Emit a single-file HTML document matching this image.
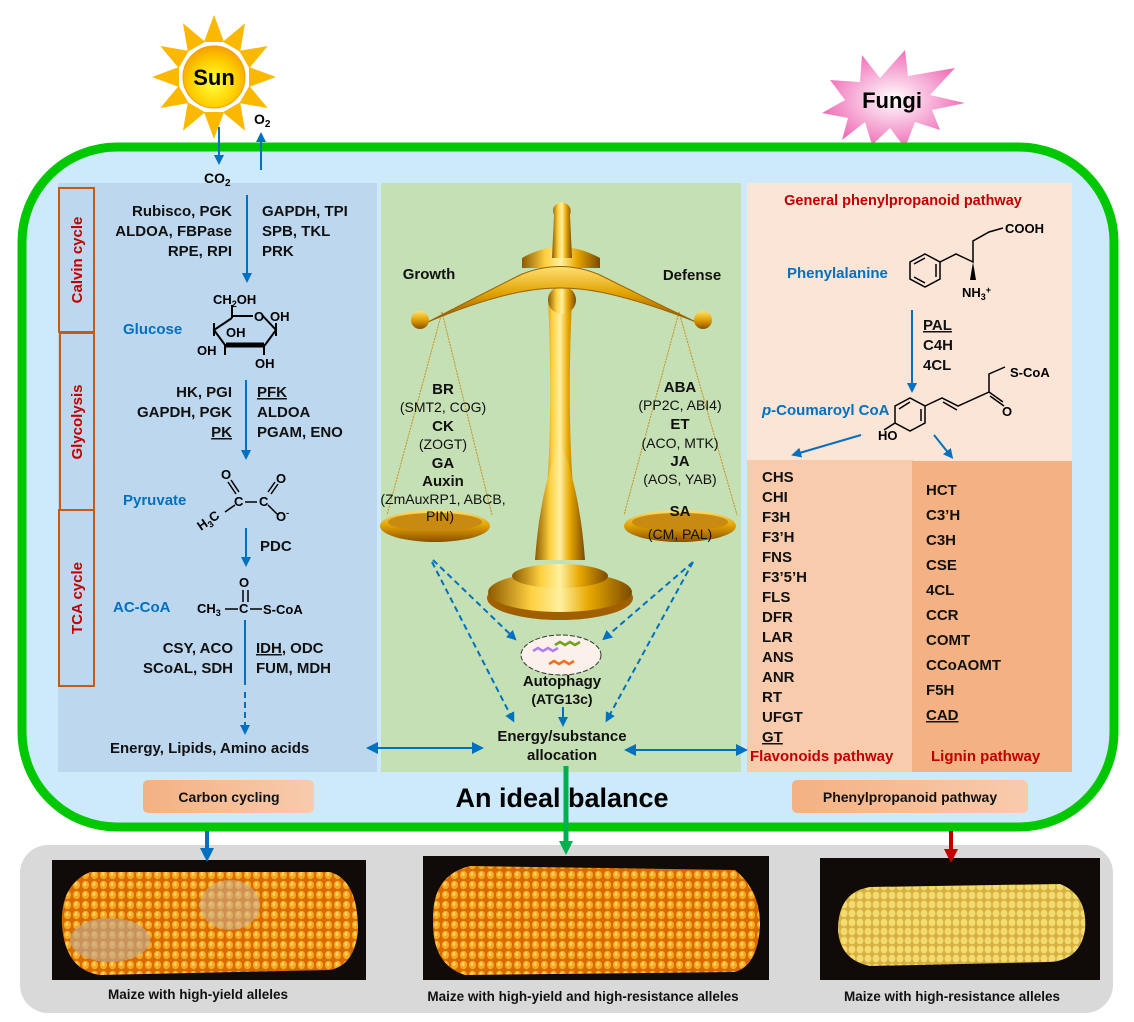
<!DOCTYPE html>
<html><head><meta charset="utf-8"><style>
html,body{margin:0;padding:0;background:#fff;}
svg{display:block;}
text{font-family:"Liberation Sans",Arial,sans-serif;font-weight:bold;}
</style></head><body>
<svg width="1134" height="1022" viewBox="0 0 1134 1022" xmlns="http://www.w3.org/2000/svg">
<defs>
<marker id="ab" markerWidth="10" markerHeight="10" refX="5" refY="5" orient="auto" markerUnits="userSpaceOnUse"><path d="M0,0 L10,5 L0,10 z" fill="#0070c0"/></marker>
<marker id="ab2" markerWidth="12" markerHeight="12" refX="6" refY="6" orient="auto-start-reverse" markerUnits="userSpaceOnUse"><path d="M0,0 L12,6 L0,12 z" fill="#0070c0"/></marker>
<marker id="ag" markerWidth="14" markerHeight="14" refX="7" refY="7" orient="auto" markerUnits="userSpaceOnUse"><path d="M0,0 L14,7 L0,14 z" fill="#00b050"/></marker>
<marker id="ar" markerWidth="14" markerHeight="14" refX="7" refY="7" orient="auto" markerUnits="userSpaceOnUse"><path d="M0,0 L14,7 L0,14 z" fill="#c00000"/></marker>
<marker id="abb" markerWidth="14" markerHeight="14" refX="7" refY="7" orient="auto" markerUnits="userSpaceOnUse"><path d="M0,0 L14,7 L0,14 z" fill="#0070c0"/></marker>
<radialGradient id="sun" cx="0.5" cy="0.6" r="0.6"><stop offset="0" stop-color="#ffff40"/><stop offset="0.6" stop-color="#ffd000"/><stop offset="1" stop-color="#f5a000"/></radialGradient>
<radialGradient id="fun" cx="0.5" cy="0.5" r="0.5"><stop offset="0" stop-color="#fff"/><stop offset="1" stop-color="#f070b8"/></radialGradient>
<linearGradient id="gold" x1="0" y1="0" x2="1" y2="0"><stop offset="0" stop-color="#8a5a00"/><stop offset="0.3" stop-color="#ffd040"/><stop offset="0.5" stop-color="#fff0a0"/><stop offset="0.7" stop-color="#e8a800"/><stop offset="1" stop-color="#7a4a00"/></linearGradient>
<linearGradient id="goldv" x1="0" y1="0" x2="0" y2="1"><stop offset="0" stop-color="#ffe070"/><stop offset="0.5" stop-color="#e0a000"/><stop offset="1" stop-color="#8a5000"/></linearGradient>
<linearGradient id="lbl" x1="0" y1="0" x2="1" y2="0"><stop offset="0" stop-color="#f4b183"/><stop offset="1" stop-color="#f8cbad"/></linearGradient>
<pattern id="k1" width="9" height="10" patternUnits="userSpaceOnUse"><rect width="9" height="10" fill="#d86a00"/><ellipse cx="4.5" cy="5" rx="3.6" ry="4.2" fill="#f5a820"/><ellipse cx="4" cy="4" rx="1.5" ry="2" fill="#ffd060"/></pattern>
<pattern id="k2" width="8" height="9" patternUnits="userSpaceOnUse"><rect width="8" height="9" fill="#d8b040"/><ellipse cx="4" cy="4.5" rx="3.4" ry="3.9" fill="#f2dc70"/></pattern>
</defs>

<!-- Sun -->
<g transform="translate(214,77)">
<g fill="#fbb800">
<path d="M0,-62 L10,-35 L-10,-35 z" transform="rotate(0)"/>
<path d="M0,-62 L10,-35 L-10,-35 z" transform="rotate(30)"/>
<path d="M0,-62 L10,-35 L-10,-35 z" transform="rotate(60)"/>
<path d="M0,-62 L10,-35 L-10,-35 z" transform="rotate(90)"/>
<path d="M0,-62 L10,-35 L-10,-35 z" transform="rotate(120)"/>
<path d="M0,-62 L10,-35 L-10,-35 z" transform="rotate(150)"/>
<path d="M0,-62 L10,-35 L-10,-35 z" transform="rotate(180)"/>
<path d="M0,-62 L10,-35 L-10,-35 z" transform="rotate(210)"/>
<path d="M0,-62 L10,-35 L-10,-35 z" transform="rotate(240)"/>
<path d="M0,-62 L10,-35 L-10,-35 z" transform="rotate(270)"/>
<path d="M0,-62 L10,-35 L-10,-35 z" transform="rotate(300)"/>
<path d="M0,-62 L10,-35 L-10,-35 z" transform="rotate(330)"/>
</g>
<circle r="31" fill="url(#sun)" stroke="#f0a000" stroke-width="1"/>
<text x="0" y="8" text-anchor="middle" font-size="22" fill="#000">Sun</text>
</g>

<!-- Fungi star -->
<polygon points="862,55 880,78 905,50 908,76 955,68 930,95 965,103 932,110 940,130 915,122 905,148 890,128 872,145 865,122 842,140 848,118 822,113 845,100 830,80 860,82" fill="url(#fun)"/>
<text x="892" y="108" text-anchor="middle" font-size="22" fill="#000">Fungi</text>

<!-- main container -->
<rect x="22" y="147" width="1092" height="680" rx="95" ry="95" fill="#cdeafb" stroke="#00c800" stroke-width="9"/>

<!-- panels -->
<rect x="58" y="183" width="319" height="589" fill="#bdd7ee"/>
<rect x="381" y="183" width="360" height="589" fill="#c5e0b4"/>
<rect x="747" y="183" width="325" height="278" fill="#fbe5d6"/>
<rect x="747" y="460" width="166" height="312" fill="#f8cbad"/>
<rect x="912" y="461" width="160" height="311" fill="#f4b183"/>

<!-- side label boxes -->
<g fill="none" stroke="#c55a11" stroke-width="2">
<rect x="59" y="188" width="35" height="144"/>
<rect x="60" y="333" width="34" height="177"/>
<rect x="59" y="510" width="35" height="176"/>
</g>
<g fill="#c00000" font-size="15">
<text transform="translate(82,260) rotate(-90)" text-anchor="middle">Calvin cycle</text>
<text transform="translate(82,422) rotate(-90)" text-anchor="middle">Glycolysis</text>
<text transform="translate(82,598) rotate(-90)" text-anchor="middle">TCA cycle</text>
</g>

<!-- CO2 O2 -->
<line x1="219" y1="127" x2="219" y2="160" stroke="#0070c0" stroke-width="2" marker-end="url(#ab)"/>
<line x1="261" y1="170" x2="261" y2="137" stroke="#0070c0" stroke-width="2" marker-end="url(#ab)"/>
<text x="204" y="183" font-size="14">CO<tspan font-size="10" dy="3">2</tspan></text>
<text x="254" y="124" font-size="14">O<tspan font-size="10" dy="3">2</tspan></text>

<!-- left panel text -->
<g font-size="15" fill="#111">
<g text-anchor="end">
<text x="232" y="216">Rubisco, PGK</text>
<text x="232" y="236">ALDOA, FBPase</text>
<text x="232" y="256">RPE, RPI</text>
<text x="232" y="397">HK, PGI</text>
<text x="232" y="417">GAPDH, PGK</text>
<text x="232" y="437" text-decoration="underline">PK</text>
<text x="233" y="653">CSY, ACO</text>
<text x="233" y="673">SCoAL, SDH</text>
</g>
<text x="262" y="216">GAPDH, TPI</text>
<text x="262" y="236">SPB, TKL</text>
<text x="262" y="256">PRK</text>
<text x="257" y="397" text-decoration="underline">PFK</text>
<text x="257" y="417">ALDOA</text>
<text x="257" y="437">PGAM, ENO</text>
<text x="260" y="551">PDC</text>
<text x="256" y="653"><tspan text-decoration="underline">IDH</tspan>, ODC</text>
<text x="256" y="673">FUM, MDH</text>
<text x="110" y="753">Energy, Lipids, Amino acids</text>
</g>
<g fill="#0070c0" font-size="15">
<text x="123" y="334">Glucose</text>
<text x="123" y="505">Pyruvate</text>
<text x="113" y="612">AC-CoA</text>
</g>
<g stroke="#0070c0" stroke-width="2">
<line x1="247" y1="195" x2="247" y2="278" marker-end="url(#ab)"/>
<line x1="246" y1="380" x2="246" y2="455" marker-end="url(#ab)"/>
<line x1="246" y1="528" x2="246" y2="562" marker-end="url(#ab)"/>
<line x1="245" y1="620" x2="245" y2="685"/>
<line x1="245" y1="692" x2="245" y2="730" stroke-dasharray="6,4" marker-end="url(#ab)"/>
<line x1="372" y1="748" x2="478" y2="748" marker-start="url(#ab2)" marker-end="url(#ab2)"/>
<line x1="630" y1="750" x2="742" y2="750" marker-start="url(#ab2)" marker-end="url(#ab2)"/>
</g>

<!-- glucose structure -->
<g stroke="#000" stroke-width="2" fill="none">
<path d="M232,318 L214,330 L225,345 L265,345 L276,330 L262,315 M232,318 L232,305 M232,316 L253,316"/>
<path d="M226,345 L264,345" stroke-width="5"/>
<path d="M214,323 L214,336 M276,323 L276,336 M225,345 L225,355 M264,345 L264,355"/>
</g>
<g font-size="13" fill="#000">
<text x="213" y="304">CH<tspan font-size="9" dy="3">2</tspan><tspan dy="-3">OH</tspan></text>
<text x="254" y="321">O</text><text x="270" y="321">OH</text>
<text x="226" y="337">OH</text>
<text x="197" y="355">OH</text>
<text x="255" y="368">OH</text>
</g>

<!-- pyruvate -->
<g stroke="#000" stroke-width="1.5" fill="none">
<path d="M228,482 L236,494 M231,480 L239,492 M245,502 L257,502 M268,492 L275,482 M271,494 L278,484 M268,505 L277,514 M235,505 L225,512"/>
</g>
<g font-size="13" fill="#000">
<text x="221" y="479">O</text><text x="276" y="483">O</text>
<text x="234" y="506">C</text><text x="259" y="506">C</text>
<text x="276" y="521">O<tspan font-size="9" dy="-5">-</tspan></text>
<text transform="translate(201,531) rotate(-35)">H<tspan font-size="9" dy="3">3</tspan><tspan dy="-3">C</tspan></text>
</g>

<!-- AC-CoA -->
<g font-size="13" fill="#000">
<text x="239" y="587">O</text>
<text x="197" y="613">CH<tspan font-size="9" dy="3">3</tspan></text>
<text x="239" y="613">C</text>
<text x="263" y="614">S-CoA</text>
</g>
<g stroke="#000" stroke-width="1.5"><path d="M243,590 L243,602 M248,590 L248,602 M225,609 L238,609 M250,609 L262,609"/></g>

<!-- scale -->
<g>
<g stroke="#c89020" stroke-width="1" stroke-dasharray="2,1">
<line x1="442" y1="312" x2="387" y2="515"/><line x1="442" y1="312" x2="492" y2="515"/>
<line x1="679" y1="312" x2="624" y2="515"/><line x1="679" y1="312" x2="737" y2="515"/>
</g>
<ellipse cx="560" cy="598" rx="73" ry="22" fill="#a06000"/>
<ellipse cx="560" cy="592" rx="72" ry="20" fill="url(#gold)"/>
<ellipse cx="560" cy="576" rx="48" ry="12" fill="url(#gold)"/>
<path d="M540,555 Q555,450 548,300 L572,300 Q565,450 580,555 Z" fill="url(#gold)"/>
<path d="M535,560 Q540,490 560,440 Q580,490 585,560 Z" fill="url(#gold)"/>
<circle cx="562" cy="300" r="14" fill="url(#gold)"/>
<path d="M522,258 Q560,236 600,258 L600,268 L522,268 Z" fill="url(#gold)"/>
<path d="M552,258 L554,215 Q550,205 562,202 Q573,205 570,215 L572,258 Z" fill="url(#gold)"/>
<path d="M428,322 Q470,300 520,275 Q560,258 600,275 Q650,300 696,322 Q640,300 600,292 Q560,284 520,292 Q480,300 428,322 Z" fill="url(#goldv)" stroke="#9a6200" stroke-width="1"/>
<circle cx="420" cy="320" r="9" fill="url(#goldv)"/>
<circle cx="703" cy="320" r="9" fill="url(#goldv)"/>
<ellipse cx="435" cy="526" rx="55" ry="16" fill="url(#goldv)"/>
<ellipse cx="435" cy="522" rx="47" ry="9" fill="#c88a10"/>
<ellipse cx="680" cy="526" rx="56" ry="16" fill="url(#goldv)"/>
<ellipse cx="680" cy="522" rx="48" ry="9" fill="#c88a10"/>
</g>
<g font-size="15" fill="#111" text-anchor="middle">
<text x="429" y="279">Growth</text>
<text x="692" y="280">Defense</text>
<text x="443" y="394">BR</text>
<text x="443" y="431">CK</text>
<text x="443" y="468">GA</text>
<text x="443" y="486">Auxin</text>
<text x="680" y="392">ABA</text>
<text x="680" y="429">ET</text>
<text x="680" y="466">JA</text>
<text x="680" y="516">SA</text>
</g>
<g font-size="14" fill="#111" text-anchor="middle">
<text x="443" y="412" style="font-weight:normal">(SMT2, COG)</text>
<text x="443" y="449" style="font-weight:normal">(ZOGT)</text>
<text x="443" y="504" style="font-weight:normal">(ZmAuxRP1, ABCB,</text>
<text x="440" y="521" style="font-weight:normal">PIN)</text>
<text x="680" y="410" style="font-weight:normal">(PP2C, ABI4)</text>
<text x="680" y="448" style="font-weight:normal">(ACO, MTK)</text>
<text x="680" y="484" style="font-weight:normal">(AOS, YAB)</text>
<text x="680" y="539" style="font-weight:normal">(CM, PAL)</text>
</g>
<g stroke="#0070c0" stroke-width="2" stroke-dasharray="6,4" fill="none">
<line x1="433" y1="560" x2="513" y2="637" marker-end="url(#ab)"/>
<line x1="432" y1="562" x2="512" y2="718" marker-end="url(#ab)"/>
<line x1="693" y1="562" x2="606" y2="637" marker-end="url(#ab)"/>
<line x1="693" y1="562" x2="608" y2="718" marker-end="url(#ab)"/>
</g>
<ellipse cx="561" cy="655" rx="40" ry="20" fill="#fbf0ea" stroke="#333" stroke-width="1" stroke-dasharray="5,2"/>
<g stroke-width="2.5" fill="none">
<path d="M533,651 l5,-3 l5,3 l5,-3 l5,3 l5,-3" stroke="#b080f0"/>
<path d="M555,645 l5,-3 l5,3 l5,-3 l5,3 l5,-3" stroke="#70a020"/>
<path d="M549,664 l5,-3 l5,3 l5,-3 l5,3 l5,-3" stroke="#f07020"/>
</g>
<g font-size="15" fill="#111" text-anchor="middle">
<text x="562" y="686">Autophagy</text>
<text x="562" y="704" font-size="14">(ATG13c)</text>
<text x="562" y="741">Energy/substance</text>
<text x="562" y="760">allocation</text>
</g>
<line x1="563" y1="707" x2="563" y2="722" stroke="#0070c0" stroke-width="2" marker-end="url(#ab)"/>

<!-- right panel -->
<text x="903" y="205" font-size="14.5" fill="#c00000" text-anchor="middle">General phenylpropanoid pathway</text>
<text x="787" y="278" font-size="15" fill="#0070c0">Phenylalanine</text>
<text x="762" y="415" font-size="15" fill="#0070c0"><tspan font-style="italic">p</tspan>-Coumaroyl CoA</text>
<g stroke="#000" stroke-width="1.5" fill="none">
<polygon points="910,262 925,254 940,262 940,279 925,287 910,279"/>
<path d="M914,264 L925,258 M936,264 L936,277 M925,283 L914,277"/>
<path d="M940,262 L956,254 L973,262 L973,241 L989,232 L1003,228"/>
<polygon points="895,406 910,398 925,406 925,423 910,431 895,423"/>
<path d="M899,409 L910,402 M921,409 L921,421"/>
<path d="M925,406 L942,398 L958,406 L989,392 L989,374 L1005,367 M943,402 L957,410 M989,392 L1003,402 M990,396 L1004,406 M895,423 L884,430"/>
</g>
<polygon points="973,262 970,280 976,280" fill="#000"/>
<g font-size="13" fill="#000">
<text x="1005" y="233">COOH</text>
<text x="962" y="297">NH<tspan font-size="9" dy="3">3</tspan><tspan font-size="9" dy="-7">+</tspan></text>
<text x="1010" y="377">S-CoA</text>
<text x="1002" y="416">O</text>
<text x="878" y="440">HO</text>
</g>
<line x1="912" y1="310" x2="912" y2="388" stroke="#0070c0" stroke-width="2" marker-end="url(#ab)"/>
<g font-size="15" fill="#111">
<text x="923" y="330" text-decoration="underline">PAL</text>
<text x="923" y="350">C4H</text>
<text x="923" y="370">4CL</text>
</g>
<line x1="861" y1="435" x2="796" y2="454" stroke="#0070c0" stroke-width="2" marker-end="url(#ab)"/>
<line x1="934" y1="435" x2="950" y2="455" stroke="#0070c0" stroke-width="2" marker-end="url(#ab)"/>
<g font-size="15" fill="#111">
<text x="762" y="482">CHS</text><text x="762" y="502">CHI</text><text x="762" y="522">F3H</text>
<text x="762" y="542">F3’H</text><text x="762" y="562">FNS</text><text x="762" y="582">F3’5’H</text>
<text x="762" y="602">FLS</text><text x="762" y="622">DFR</text><text x="762" y="642">LAR</text>
<text x="762" y="662">ANS</text><text x="762" y="682">ANR</text><text x="762" y="702">RT</text>
<text x="762" y="722">UFGT</text><text x="762" y="742" text-decoration="underline">GT</text>
<text x="926" y="495">HCT</text><text x="926" y="520">C3’H</text><text x="926" y="545">C3H</text>
<text x="926" y="570">CSE</text><text x="926" y="595">4CL</text><text x="926" y="620">CCR</text>
<text x="926" y="645">COMT</text><text x="926" y="670">CCoAOMT</text><text x="926" y="695">F5H</text>
<text x="926" y="720" text-decoration="underline">CAD</text>
</g>
<text x="750" y="761" font-size="15" fill="#c00000">Flavonoids pathway</text>
<text x="931" y="761" font-size="15" fill="#c00000">Lignin pathway</text>

<!-- bottom labels -->
<rect x="143" y="780" width="171" height="33" rx="5" fill="url(#lbl)"/>
<text x="229" y="802" font-size="14" fill="#111" text-anchor="middle">Carbon cycling</text>
<rect x="792" y="780" width="236" height="33" rx="5" fill="url(#lbl)"/>
<text x="910" y="802" font-size="14" fill="#111" text-anchor="middle">Phenylpropanoid pathway</text>
<text x="562" y="807" font-size="27" fill="#000" text-anchor="middle">An ideal balance</text>

<!-- gray bottom panel -->
<rect x="20" y="845" width="1093" height="168" rx="28" fill="#d9d9d9"/>
<rect x="52" y="860" width="314" height="120" fill="#100a08"/>
<path d="M62,925 Q60,885 90,872 L330,872 Q358,880 358,930 Q355,965 330,970 L100,975 Q65,970 62,925 Z" fill="url(#k1)"/>
<ellipse cx="110" cy="940" rx="40" ry="22" fill="#c0a890" opacity="0.65"/>
<ellipse cx="230" cy="905" rx="30" ry="25" fill="#c8b098" opacity="0.55"/>
<rect x="423" y="856" width="346" height="124" fill="#100a08"/>
<path d="M433,920 Q432,875 470,866 L735,870 Q760,890 760,925 Q758,965 735,972 L465,975 Q432,965 433,920 Z" fill="url(#k1)"/>
<rect x="820" y="858" width="280" height="122" fill="#100a08"/>
<path d="M838,930 Q838,892 870,887 L1060,884 Q1088,895 1085,930 Q1080,960 1050,962 L870,966 Q840,960 838,930 Z" fill="url(#k2)"/>
<g font-size="13.5" fill="#111" text-anchor="middle">
<text x="198" y="999">Maize with high-yield alleles</text>
<text x="583" y="1001">Maize with high-yield and high-resistance alleles</text>
<text x="952" y="1001">Maize with high-resistance alleles</text>
</g>

<!-- bottom arrows -->
<line x1="207" y1="831" x2="207" y2="855" stroke="#0070c0" stroke-width="4" marker-end="url(#abb)"/>
<line x1="566" y1="766" x2="566" y2="848" stroke="#00b050" stroke-width="5" marker-end="url(#ag)"/>
<line x1="951" y1="831" x2="951" y2="856" stroke="#c00000" stroke-width="4" marker-end="url(#ar)"/>
</svg>
</body></html>
